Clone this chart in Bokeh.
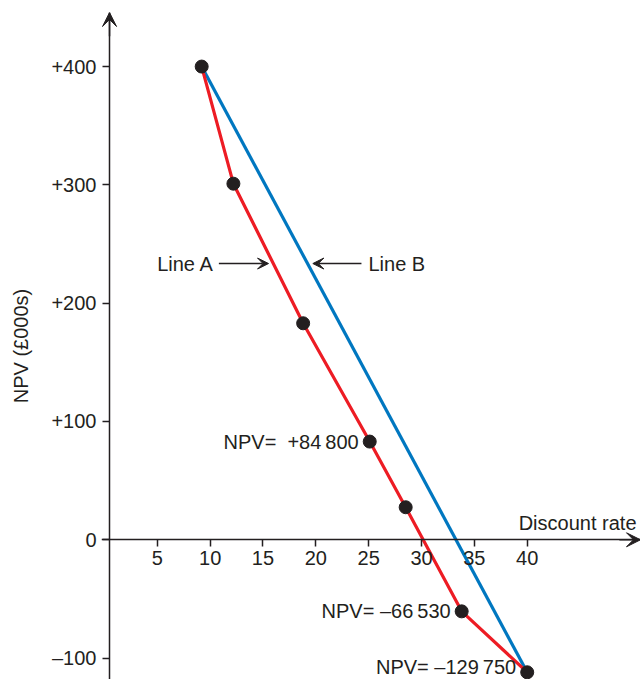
import numpy as np
from bokeh.plotting import figure
from bokeh.models import FixedTicker, Arrow, VeeHead, Label, ColumnDataSource, Range1d, LinearAxis
from bokeh.embed import file_html
from bokeh.resources import INLINE
from bokeh.core.properties import value

# ---- data ----
rate = [9.2, 12.2, 18.8, 25.1, 28.5, 33.8, 40.0]          # discount rate (%)
npv = [400, 301, 183, 83, 27.5, -60.5, -112]              # NPV (£000s)
line_b_rate = [9.2, 40.0]
line_b_npv = [400, -112]
labelled_idx = [3, 5, 6]
point_labels = ["NPV=\u00a0\u00a0+84\u2009800", "NPV= \u201366\u2009530", "NPV= \u2013129\u2009750"]
label_dy = [0, 0, -5]
x_ticks = [5, 10, 15, 20, 25, 30, 35, 40]
y_ticks = [-100, 0, 100, 200, 300, 400]
y_tick_labels = ["\u2013100", "0", "+100", "+200", "+300", "+400"]
x_label = "Discount rate"
y_label = "NPV (\u00a3000s)"
line_names = ["Line A", "Line B"]
pointer_npv = 233.5

# ---- style ----
FONT = "Liberation Sans"
FS = "20px"
TXT = "#231f20"
RED = "#ed1c24"
BLUE = "#0077c0"

Y_AXIS_AT = 0.48
X0, X1 = -0.28, 50.72
Y0, Y1 = -118.1, 445.7

p = figure(width=640, height=679, output_backend="svg", toolbar_location=None,
           x_range=Range1d(X0, X1), y_range=Range1d(Y0, Y1),
           min_border_left=101, min_border_right=0, min_border_top=12, min_border_bottom=0)
p.outline_line_color = None
p.grid.visible = False
p.background_fill_color = "white"

# x axis (drawn at NPV = 0)
p.xaxis.fixed_location = 0
p.xaxis.ticker = FixedTicker(ticks=x_ticks)
ax = p.xaxis[0]
ax.axis_line_color = TXT
ax.axis_line_width = 1.5
ax.major_tick_line_color = TXT
ax.major_tick_line_width = 1.5
ax.major_tick_out = 7
ax.major_tick_in = 0
ax.minor_tick_line_color = None
ax.major_label_text_font = FONT
ax.major_label_text_font_size = FS
ax.major_label_text_color = TXT
ax.major_label_standoff = 4

# y axis labels (standard left axis, line and ticks hidden)
ya = p.yaxis[0]
ya.ticker = FixedTicker(ticks=y_ticks)
ya.major_label_overrides = {t: l for t, l in zip(y_ticks, y_tick_labels)}
ya.axis_line_color = None
ya.major_tick_line_color = None
ya.minor_tick_line_color = None
ya.major_tick_out = 0
ya.major_tick_in = 0
ya.major_label_standoff = 5
ya.major_label_text_font = FONT
ya.major_label_text_font_size = FS
ya.major_label_text_color = TXT
ya.axis_label = y_label
ya.axis_label_text_font = FONT
ya.axis_label_text_font_size = FS
ya.axis_label_text_font_style = "normal"
ya.axis_label_text_color = TXT
ya.axis_label_standoff = 16

# y axis line and ticks, drawn at the chart's origin
yline = LinearAxis(fixed_location=Y_AXIS_AT, ticker=FixedTicker(ticks=y_ticks),
                   axis_line_color=TXT, axis_line_width=1.5,
                   major_tick_line_color=TXT, major_tick_line_width=1.5,
                   major_tick_out=7, major_tick_in=0, minor_tick_line_color=None,
                   major_label_text_color=None, major_label_text_font_size="1px")
p.add_layout(yline, "left")

# axis arrow heads
p.add_layout(Arrow(x_start=Y_AXIS_AT, y_start=Y1 - 20, x_end=Y_AXIS_AT, y_end=Y1, line_color=TXT,
                   line_width=1.5, end=VeeHead(size=14, fill_color=TXT, line_color=TXT)))
p.add_layout(Arrow(x_start=X1 - 2, y_start=0, x_end=X1, y_end=0, line_color=TXT, line_width=1.5,
                   end=VeeHead(size=14, fill_color=TXT, line_color=TXT)))

# x axis title
p.add_layout(Label(x=X1, y=0, text=x_label, x_offset=-4, y_offset=17, text_align="right",
                   text_baseline="alphabetic", text_font=FONT, text_font_size=FS, text_color=TXT))

# lines
p.line(line_b_rate, line_b_npv, line_color=BLUE, line_width=3.2)
p.line(rate, npv, line_color=RED, line_width=3.2)
p.scatter(rate, npv, size=13, fill_color=TXT, line_color=TXT)

# point labels
src = ColumnDataSource(dict(x=[rate[i] for i in labelled_idx], y=[npv[i] for i in labelled_idx],
                            t=point_labels, dy=label_dy))
p.text(x="x", y="y", text="t", source=src, x_offset=-11, y_offset="dy", text_align="right",
       text_baseline="middle", text_font=value(FONT), text_font_size=FS, text_color=TXT)

# pointers to the lines
red_x = float(np.interp(pointer_npv, npv[::-1], rate[::-1]))
blue_x = float(np.interp(pointer_npv, line_b_npv[::-1], line_b_rate[::-1]))
tipA = red_x - 0.45
tipB = blue_x + 0.5
p.add_layout(Arrow(x_start=tipA - 4.7, y_start=pointer_npv, x_end=tipA, y_end=pointer_npv,
                   line_color=TXT, line_width=1.5, end=VeeHead(size=11, fill_color=TXT, line_color=TXT)))
p.add_layout(Arrow(x_start=tipB + 4.6, y_start=pointer_npv, x_end=tipB, y_end=pointer_npv,
                   line_color=TXT, line_width=1.5, end=VeeHead(size=11, fill_color=TXT, line_color=TXT)))
p.add_layout(Label(x=tipA - 4.7, y=pointer_npv, text=line_names[0], x_offset=-5, text_align="right",
                   text_baseline="middle", text_font=FONT, text_font_size=FS, text_color=TXT))
p.add_layout(Label(x=tipB + 4.6, y=pointer_npv, text=line_names[1], x_offset=7, text_align="left",
                   text_baseline="middle", text_font=FONT, text_font_size=FS, text_color=TXT))

open("out.html", "w").write(file_html(p, INLINE))
